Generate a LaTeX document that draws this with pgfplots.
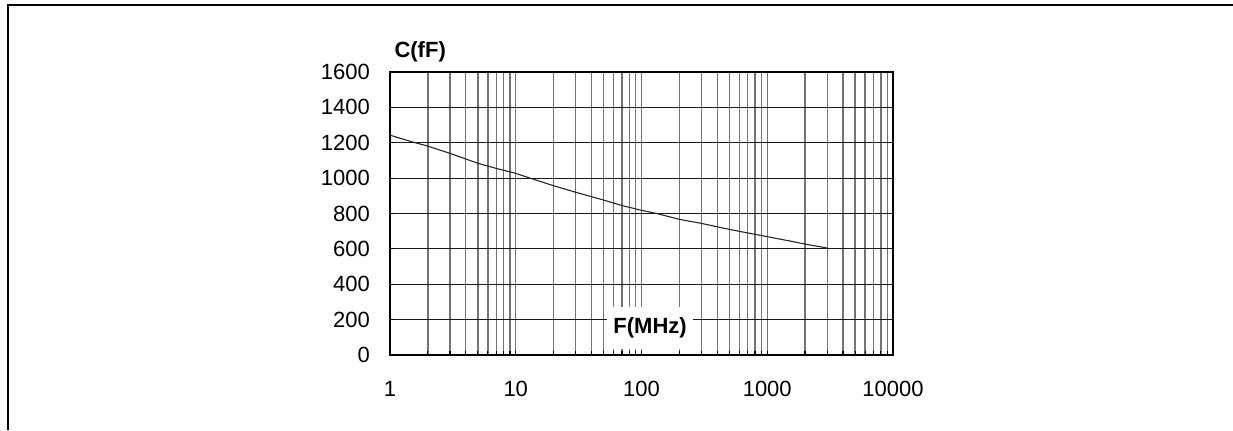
\documentclass[border=0pt]{standalone}
\usepackage{fontspec}
\setmainfont{Liberation Sans}
\usepackage{pgfplots}
\pgfplotsset{compat=1.18}
\begin{document}
\begin{tikzpicture}
% page area and the framing rule
\path[use as bounding box] (0pt,0pt) rectangle (616.5pt,215pt);
\draw[line width=1pt] (3.75pt,0pt) -- (3.75pt,212.5pt) -- (616.5pt,212.5pt);
\begin{axis}[
  at={(195pt,37.5pt)}, anchor=south west,
  scale only axis, width=251.5pt, height=141.5pt,
  xmode=log, xmin=1, xmax=10000, ymin=0, ymax=1600,
  xtick={1,10,100,1000,10000},
  xticklabels={1,10,100,1000,10000},
  minor xtick={2,3,4,5,6,7,8,9,20,30,40,50,60,70,80,90,200,300,400,500,600,700,800,900,2000,3000,4000,5000,6000,7000,8000,9000},
  ytick={0,200,400,600,800,1000,1200,1400,1600},
  yticklabels={0,200,400,600,800,1000,1200,1400,1600},
  xmajorgrids, xminorgrids, ymajorgrids,
  major x grid style={black!55, line width=0.7pt},
  minor x grid style={black!55, line width=0.7pt},
  major y grid style={black!90, line width=0.5pt},
  axis line style={black, line width=1pt},
  tick pos=left, tick align=inside,
  major tick length=2pt, minor tick length=2pt,
  every tick/.style={black, line width=0.6pt},
  /pgf/number format/assume math mode=true,
  every tick label/.append style={font=\fontsize{11}{13}\selectfont},
  xticklabel style={yshift=-9.5pt},
  yticklabel style={xshift=-6.5pt},
  clip=false,
]
\addplot[black!85, line width=0.55pt] coordinates {
  (1,1243) (1.5,1205) (2,1181) (3,1140) (5,1084) (7,1055) (10,1027) (13,1000)
  (20,957) (30,920) (50,876) (70,845) (100,818) (132,800) (200,767)
  (300,744) (500,710) (700,690) (1000,669) (1500,645) (2000,627) (3000,605)
};
\node[font=\fontsize{11}{13}\selectfont\bfseries] at (rel axis cs:0.06,1) [yshift=10pt] {C(fF)};
\node[fill=white, inner sep=0pt, minimum width=43pt, minimum height=21pt,
      font=\fontsize{11}{13}\selectfont\bfseries] at (axis cs:117,152.6) {F(MHz)};
\end{axis}
\end{tikzpicture}
\end{document}
